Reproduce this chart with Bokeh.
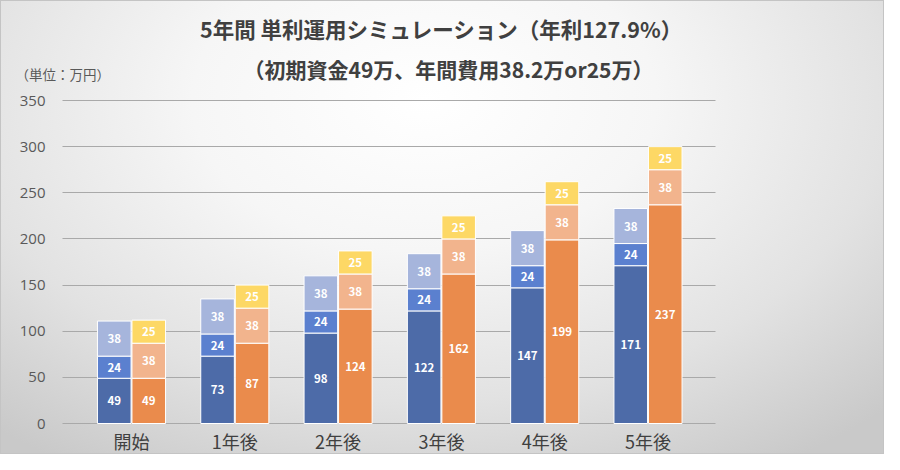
from bokeh.plotting import figure
from bokeh.models import ColumnDataSource, Label, FixedTicker
from bokeh.core.properties import value
from bokeh.embed import file_html
from bokeh.resources import INLINE

categories = ["開始", "1年後", "2年後", "3年後", "4年後", "5年後"]
base_a = [49, 73, 98, 122, 147, 171]
cost_a1 = [24, 24, 24, 24, 24, 24]
cost_a2 = [38, 38, 38, 38, 38, 38]
base_b = [49, 87, 124, 162, 199, 237]
cost_b1 = [38, 38, 38, 38, 38, 38]
cost_b2 = [25, 25, 25, 25, 25, 25]
y_ticks = [0, 50, 100, 150, 200, 250, 300, 350]

title1 = "5年間 単利運用シミュレーション（年利127.9%）"
title2 = "（初期資金49万、年間費用38.2万or25万）"
unit_label = "（単位：万円）"

colors_a = ["#4d6ba8", "#5b80cf", "#a6b5dc"]
colors_b = ["#ea8b4c", "#f2b48d", "#fdd865"]

JP = "Noto Sans CJK JP"

W, H = 884, 454
# layout in pixels (canvas): category 0 centre, category pitch, baseline, px per unit
CX0, PITCH = 131.0, 103.3
TOP350 = 100.0
BASE = 423.0
PPU = (BASE - TOP350) / 350.0
PLOT_L, PLOT_R = 62.0, 715.0

def dx(px):
    return (px - CX0) / PITCH

def dy(py):
    return (BASE - py) / PPU

p = figure(width=W, height=H, output_backend="svg", toolbar_location=None,
           x_range=(dx(0), dx(W)), y_range=(dy(H), dy(0)),
           min_border=0, min_border_left=0, min_border_right=0,
           min_border_top=0, min_border_bottom=0)
p.border_fill_color = None
p.background_fill_color = None
p.outline_line_color = None
p.styles = {
    "background-image": "radial-gradient(ellipse 75% 95% at 48% 22%, #ffffff 0%, #f6f6f6 35%, #e2e2e2 70%, #c9c9c9 100%)",
    "box-shadow": "inset 0 0 0 1px #c4c4c4",
}

xs = list(range(len(categories)))
off = 0.167
w = 0.325

def stack(xpos, segs, colors):
    bottom = [0] * len(xpos)
    lx, ly, lt = [], [], []
    for seg, col in zip(segs, colors):
        top = [b + s for b, s in zip(bottom, seg)]
        src = ColumnDataSource(dict(x=xpos, bottom=bottom, top=top))
        p.vbar(x="x", bottom="bottom", top="top", width=w, source=src,
               fill_color=col, line_color="white", line_width=1)
        for xi, b, s in zip(xpos, bottom, seg):
            lx.append(xi)
            ly.append(b + s / 2)
            lt.append(str(s))
        bottom = top
    src = ColumnDataSource(dict(x=lx, y=ly, t=lt))
    p.text(x="x", y="y", text="t", source=src, text_color="white",
           text_font=value(JP), text_font_style="bold", text_font_size="11.5px",
           text_align="center", text_baseline="middle")

stack([x - off for x in xs], [base_a, cost_a1, cost_a2], colors_a)
stack([x + off for x in xs], [base_b, cost_b1, cost_b2], colors_b)

p.xaxis.fixed_location = 0
p.xaxis.ticker = FixedTicker(ticks=xs)
p.xaxis.major_label_overrides = {i: c for i, c in enumerate(categories)}
p.xaxis.major_label_text_font = JP
p.xaxis.major_label_text_font_size = "18px"
p.xaxis.major_label_text_color = "#404040"
p.xaxis.major_label_standoff = 4
p.xaxis.major_tick_out = 0
p.xaxis.major_tick_in = 0
p.xaxis.axis_line_color = None
p.xaxis.major_tick_line_color = None
p.xaxis.minor_tick_line_color = None

p.yaxis.fixed_location = dx(PLOT_L)
p.yaxis.ticker = FixedTicker(ticks=y_ticks)
p.yaxis.major_label_text_font = "Open Sans"
p.yaxis.major_label_text_font_size = "15px"
p.yaxis.major_label_text_color = "#595959"
p.yaxis.major_label_standoff = 17
p.yaxis.major_tick_out = 0
p.yaxis.major_tick_in = 0
p.yaxis.axis_line_color = None
p.yaxis.major_tick_line_color = None
p.yaxis.minor_tick_line_color = None

p.xgrid.grid_line_color = None
p.ygrid.ticker = FixedTicker(ticks=y_ticks)
p.ygrid.cross_bounds = (dx(PLOT_L), dx(PLOT_R))
p.ygrid.grid_line_color = "#a9a9a9"
p.ygrid.grid_line_width = 1

p.add_layout(Label(x=dx(441), y=dy(28), text=title1,
                   text_font=JP, text_font_style="bold", text_font_size="21.5px",
                   text_color="#404040", text_align="center", text_baseline="middle"))
p.add_layout(Label(x=dx(448), y=dy(68), text=title2,
                   text_font=JP, text_font_style="bold", text_font_size="21px",
                   text_color="#404040", text_align="center", text_baseline="middle"))
p.add_layout(Label(x=dx(15), y=dy(73), text=unit_label,
                   text_font=JP, text_font_size="13.5px",
                   text_color="#595959", text_align="left", text_baseline="middle"))

open("out.html", "w").write(file_html(p, INLINE))
